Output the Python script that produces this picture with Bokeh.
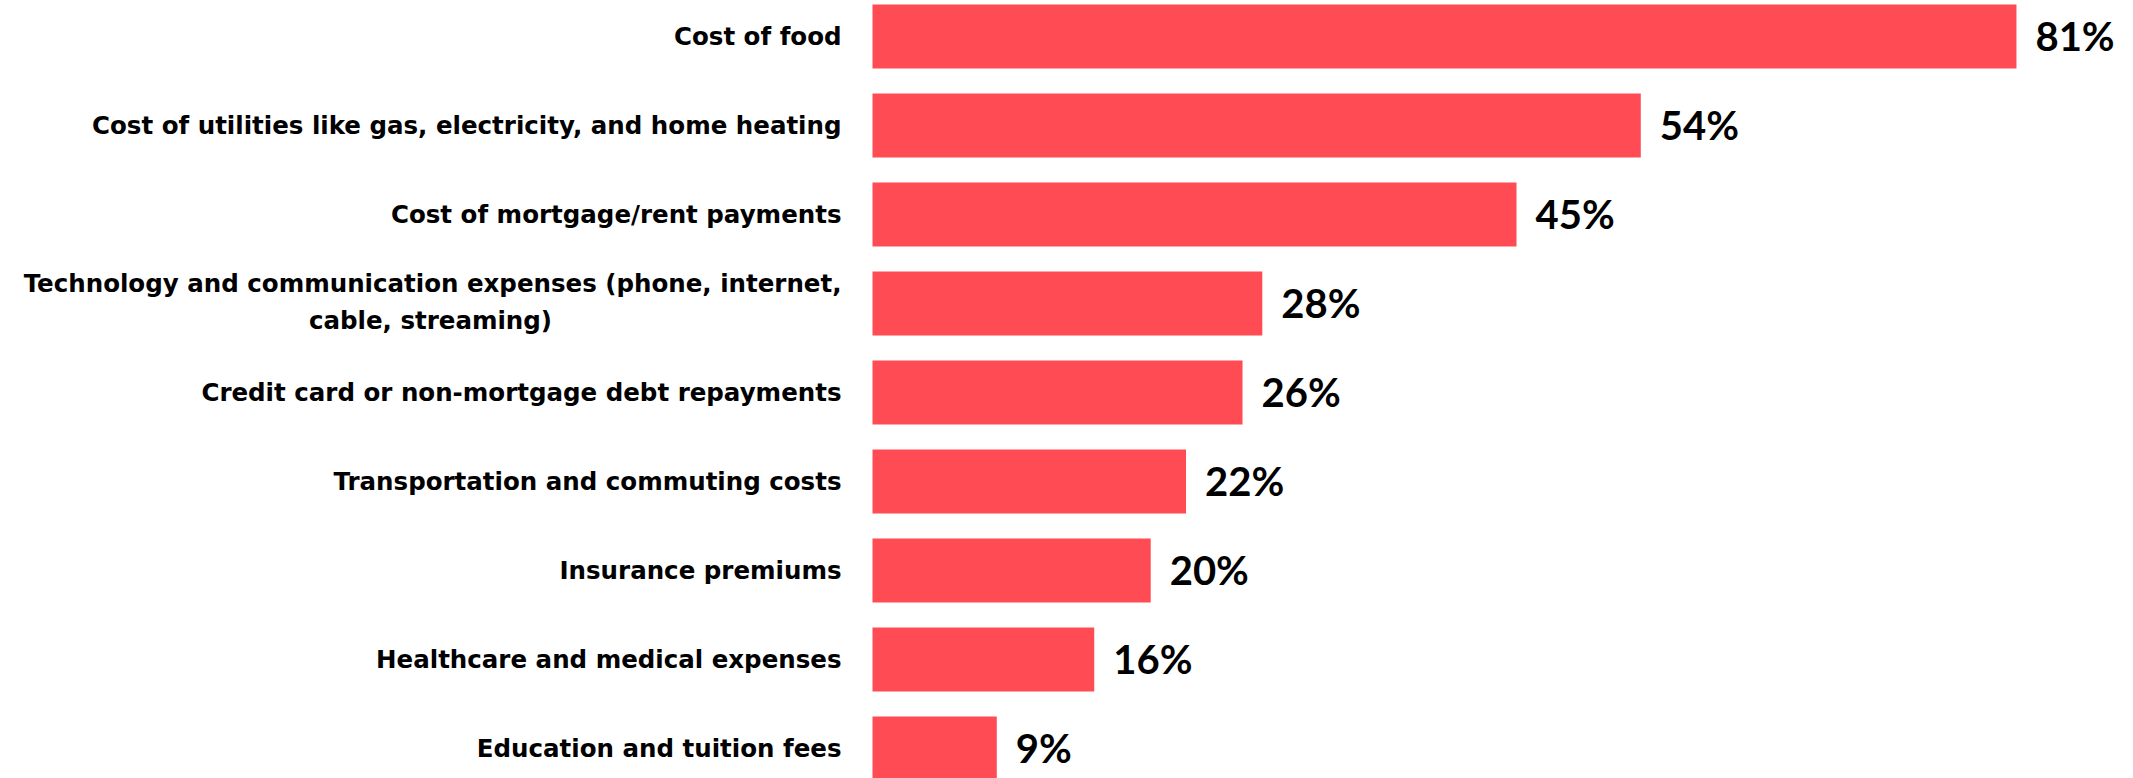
from bokeh.plotting import figure
from bokeh.models import Range1d, ColumnDataSource
from bokeh.core.properties import value
from bokeh.embed import file_html
from bokeh.resources import INLINE

categories = [
    "Cost of food",
    "Cost of utilities like gas, electricity, and home heating",
    "Cost of mortgage/rent payments",
    "Technology and communication expenses (phone, internet,\ncable, streaming)",
    "Credit card or non-mortgage debt repayments",
    "Transportation and commuting costs",
    "Insurance premiums",
    "Healthcare and medical expenses",
    "Education and tuition fees",
]
values = [81.0, 54.4, 45.6, 27.6, 26.2, 22.2, 19.7, 15.7, 8.8]
value_labels = ["81%", "54%", "45%", "28%", "26%", "22%", "20%", "16%", "9%"]

BAR_COLOR = "#FF4B54"
VAL_FONT = "Lato"
CAT_FONT = "DejaVu Sans"

W, H = 2133, 778
PX_PER_UNIT = 14.123
BAR_LEFT_PX = 872
PITCH = 89.0
FIRST_CENTER = 36.0

p = figure(width=W, height=H, output_backend="svg", toolbar_location=None,
           x_range=Range1d(-BAR_LEFT_PX / PX_PER_UNIT, (W - BAR_LEFT_PX) / PX_PER_UNIT),
           y_range=Range1d((H - FIRST_CENTER) / PITCH, -FIRST_CENTER / PITCH),
           min_border=0, outline_line_color=None, background_fill_color="white",
           border_fill_color="white")
p.axis.visible = False
p.grid.visible = False

idx = list(range(len(categories)))
src = ColumnDataSource(dict(y=idx, v=values, lab=value_labels))
p.hbar(y="y", left=0, right="v", height=64 / PITCH, color=BAR_COLOR, line_color=None, source=src)

p.text(x="v", y="y", text="lab", source=src, x_offset=19, y_offset=-1,
       text_align="left", text_baseline="middle",
       text_font=value(VAL_FONT), text_font_style="bold", text_font_size="40px", text_color="black")

CAT_SIZE = "24.5px"
single_y, single_t, multi = [], [], []
for i, c in enumerate(categories):
    if "\n" in c:
        multi.append((i, c.split("\n")))
    else:
        single_y.append(i)
        single_t.append(c)
p.text(x=[0] * len(single_y), y=single_y, text=single_t, x_offset=-31,
       text_align="right", text_baseline="middle",
       text_font=value(CAT_FONT), text_font_style="bold", text_font_size=CAT_SIZE, text_color="black")
for i, lines in multi:
    p.text(x=[0], y=[i], text=[lines[0]], x_offset=-31, y_offset=-20,
           text_align="right", text_baseline="middle",
           text_font=value(CAT_FONT), text_font_style="bold", text_font_size=CAT_SIZE, text_color="black")
    p.text(x=[0], y=[i], text=[lines[1]], x_offset=-31 - 411, y_offset=17,
           text_align="center", text_baseline="middle",
           text_font=value(CAT_FONT), text_font_style="bold", text_font_size=CAT_SIZE, text_color="black")

open("out.html", "w").write(file_html(p, INLINE))
